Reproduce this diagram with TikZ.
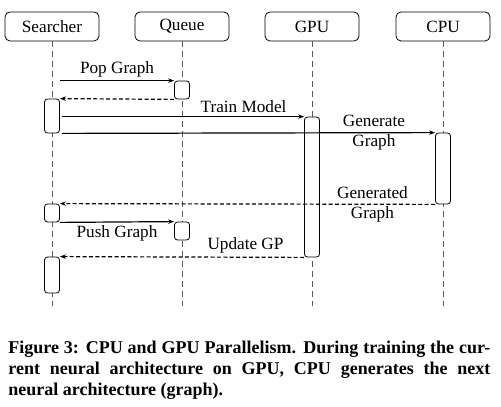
\documentclass[tikz,border=0pt]{standalone}
\usepackage{fontspec}
\setmainfont{Liberation Serif}
\usetikzlibrary{arrows.meta}

\begin{document}
\begin{tikzpicture}
  [x=0.5pt, y=-0.5pt,
    every node/.style={font=\fontsize{8.6}{10.2}\selectfont},
    head/.style={draw, rounded corners=2.5pt, minimum width=47pt, minimum height=14.5pt, inner sep=0pt},
    act/.style={draw, fill=white, rounded corners=1.5pt, minimum width=7.5pt, inner sep=0pt},
    lifeline/.style={densely dashed, thin, gray!70!black},
    call/.style={-{Stealth[length=3pt,width=2.2pt]}, semithick},
    ret/.style={call, dash pattern=on 2pt off 1.2pt},
    msg/.style={inner sep=1.5pt},
]
  \useasboundingbox (0,0) rectangle (501,406);

  % heads and lifelines
  \node[head] (searcher) at (52,26.5) {Searcher};
  \node[head] (queue) at (182,26.5) {Queue};
  \node[head] (gpu) at (312,26.5) {GPU};
  \node[head] (cpu) at (443,26.5) {CPU};
  \coordinate (bottom) at (0,306);
  \foreach \n in {searcher,queue,gpu,cpu}
    \draw[lifeline] (\n.south) -- (\n.south |- bottom);

  % activations
  \node[act, minimum height=9pt] (q1) at (182,90) {};
  \node[act, minimum height=17pt] (s1) at (52,116) {};
  \node[act, minimum height=70pt] (g1) at (312,187) {};
  \node[act, minimum height=35.5pt] (c1) at (443,168.5) {};
  \node[act, minimum height=9pt] (s2) at (52,213) {};
  \node[act, minimum height=9pt] (q2) at (182,231) {};
  \node[act, minimum height=18pt] (s3) at (52,275) {};

  % messages
  \draw[call] ([xshift=4pt]searcher.south |- q1.north west) -- node[msg, above] {Pop Graph} (q1.north west);
  \draw[ret] (q1.south west) -- (s1.north east);
  \draw[call] ([xshift=1pt]s1.east |- g1.north) -- node[msg, above, pos=0.75] {Train Model} (g1.north west);
  \draw[call] ([xshift=1pt]s1.south east) -- node[msg, pos=0.836, align=center] {Generate\\Graph} (c1.north west);
  \draw[ret] (c1.south west) -- node[msg, pos=0.167, align=center] {Generated\\Graph} (s2.north east);
  \draw[call] (s2.south east) -- node[msg, below] {Push Graph} (q2.north west);
  \draw[ret] (g1.south west) -- node[msg, above, pos=0.24] {Update GP} (s3.north east);

  % caption
  \node[anchor=north west, inner sep=0pt, align=left,
    font=\fontsize{9}{10.5}\selectfont\bfseries] (caption) at (8,341)
    {\makebox[241pt][s]{Figure 3: CPU and GPU Parallelism. During training the cur-}\\
     \makebox[241pt][s]{rent neural architecture on GPU, CPU generates the next}\\
     neural architecture (graph).};
\end{tikzpicture}
\end{document}
